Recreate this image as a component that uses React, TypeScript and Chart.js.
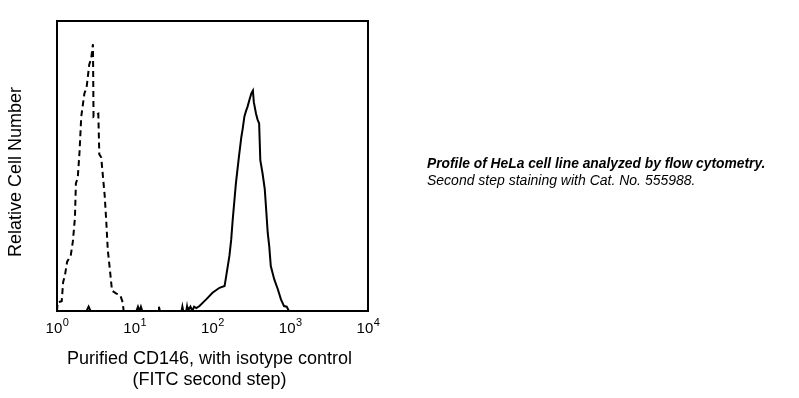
import React, { useEffect, useRef } from "react";
import { Chart, registerables } from "chart.js";

Chart.register(...registerables);

// Fluorescence (FITC) channel values and relative cell counts
const isotypeX = [1.0, 1.02, 1.15, 1.2, 1.26, 1.35, 1.5, 1.6, 1.7, 1.75, 1.85, 1.95, 2.05, 2.25, 2.4, 2.6, 2.75, 2.9, 2.95, 3.4, 3.5, 3.7, 4.1, 4.3, 4.5, 4.8, 5.1, 5.8, 6.5, 7.0, 7.2, 7.5, 10000];
const isotypeY = [0, 3, 3.4, 10, 12, 17, 19, 24, 32, 44, 46, 55, 67, 75, 77, 85, 87, 92, 67, 68, 54, 53, 40, 31, 21, 14, 7, 6, 5.5, 3, 0, 0, 0];

const cd146X = [1, 2.4, 2.55, 2.7, 10.5, 11, 11.5, 12, 12.5, 20, 20.5, 21, 40, 41, 42, 46, 47, 48, 52, 55, 58, 62, 68, 83, 100, 123, 143, 150, 165, 174, 182, 200, 219, 235, 245, 257, 270, 282, 300, 316, 331, 340, 363, 380, 398, 412, 440, 470, 490, 513, 537, 562, 623, 692, 759, 832, 900, 960, 10000];
const cd146Y = [0, 0, 1.5, 0, 0, 1.5, 0, 1.5, 0, 0, 1.5, 0, 0, 1.5, 0, 0, 1.5, 0, 1.5, 0, 1.5, 1, 1.7, 4, 6.3, 8, 8.6, 12, 19, 24.6, 31.5, 44, 53.3, 60, 63, 67, 69, 70.4, 73, 75, 76, 72, 68, 66, 64.7, 52, 47.5, 42, 35, 27, 22.3, 15.5, 10.9, 7.5, 4, 1.7, 1.5, 0, 0];

const tickValues = [1, 10, 100, 1000, 10000];
const tickExponents = ["0", "1", "2", "3", "4"];

const xTitle = ["Purified CD146, with isotype control", "(FITC second step)"];
const yTitle = "Relative Cell Number";
const noteTitle = "Profile of HeLa cell line analyzed by flow cytometry.";
const noteText = "Second step staining with Cat. No. 555988.";

const FONT = "'Liberation Sans', Arial, sans-serif";

const decorPlugin = {
  id: "decor",
  afterDraw(chart: any) {
    const ctx = chart.ctx as CanvasRenderingContext2D;
    const area = chart.chartArea;
    const xs = chart.scales.x;
    ctx.save();
    // frame
    ctx.strokeStyle = "#000";
    ctx.lineWidth = 2;
    ctx.strokeRect(area.left, area.top, area.right - area.left, area.bottom - area.top);

    ctx.fillStyle = "#000";
    ctx.textBaseline = "alphabetic";
    ctx.textAlign = "left";
    // tick labels 10^n
    tickValues.forEach((v, i) => {
      const px = xs.getPixelForValue(v);
      ctx.font = `15px ${FONT}`;
      const wBase = ctx.measureText("10").width;
      ctx.font = `11px ${FONT}`;
      const wExp = ctx.measureText(tickExponents[i]).width;
      const start = px - (wBase + wExp) / 2;
      ctx.font = `15px ${FONT}`;
      ctx.fillText("10", start, area.bottom + 22);
      ctx.font = `11px ${FONT}`;
      ctx.fillText(tickExponents[i], start + wBase + 0.5, area.bottom + 15);
    });

    // x title
    ctx.font = `18px ${FONT}`;
    ctx.textAlign = "center";
    const cx = (area.left + area.right) / 2 - 3;
    ctx.fillText(xTitle[0], cx, area.bottom + 53);
    ctx.fillText(xTitle[1], cx, area.bottom + 74);

    // y title
    ctx.save();
    ctx.translate(21, (area.top + area.bottom) / 2 + 6);
    ctx.rotate(-Math.PI / 2);
    ctx.fillText(yTitle, 0, 0);
    ctx.restore();

    // note
    ctx.textAlign = "left";
    ctx.font = `italic bold 13.8px ${FONT}`;
    ctx.fillText(noteTitle, 427, 168);
    ctx.font = `italic 14px ${FONT}`;
    ctx.fillText(noteText, 427, 185);
    ctx.restore();
  },
};

export default function App() {
  const ref = useRef<HTMLCanvasElement | null>(null);
  useEffect(() => {
    if (!ref.current) return;
    const chart = new Chart(ref.current, {
      type: "line",
      data: {
        datasets: [
          {
            label: "Isotype control",
            data: isotypeX.map((x, i) => ({ x, y: isotypeY[i] })),
            borderColor: "#000",
            borderWidth: 2,
            borderDash: [6, 4],
            pointRadius: 0,
            tension: 0,
            fill: false,
          },
          {
            label: "Purified CD146",
            data: cd146X.map((x, i) => ({ x, y: cd146Y[i] })),
            borderColor: "#000",
            borderWidth: 2,
            pointRadius: 0,
            tension: 0,
            fill: false,
          },
        ],
      },
      options: {
        animation: false,
        responsive: false,
        layout: { padding: { left: 57, right: 431, top: 21, bottom: 87 } },
        plugins: { legend: { display: false }, tooltip: { enabled: false }, title: { display: false } },
        scales: {
          x: { type: "logarithmic", min: 1, max: 10000, display: false },
          y: { type: "linear", min: 0, max: 100, display: false },
        },
      },
      plugins: [decorPlugin],
    });
    return () => chart.destroy();
  }, []);
  return (
    <div style={{ position: "absolute", left: 0, top: 0, width: 799, height: 398, background: "#fff" }}>
      <canvas ref={ref} width={799} height={398} style={{ display: "block" }} />
    </div>
  );
}
